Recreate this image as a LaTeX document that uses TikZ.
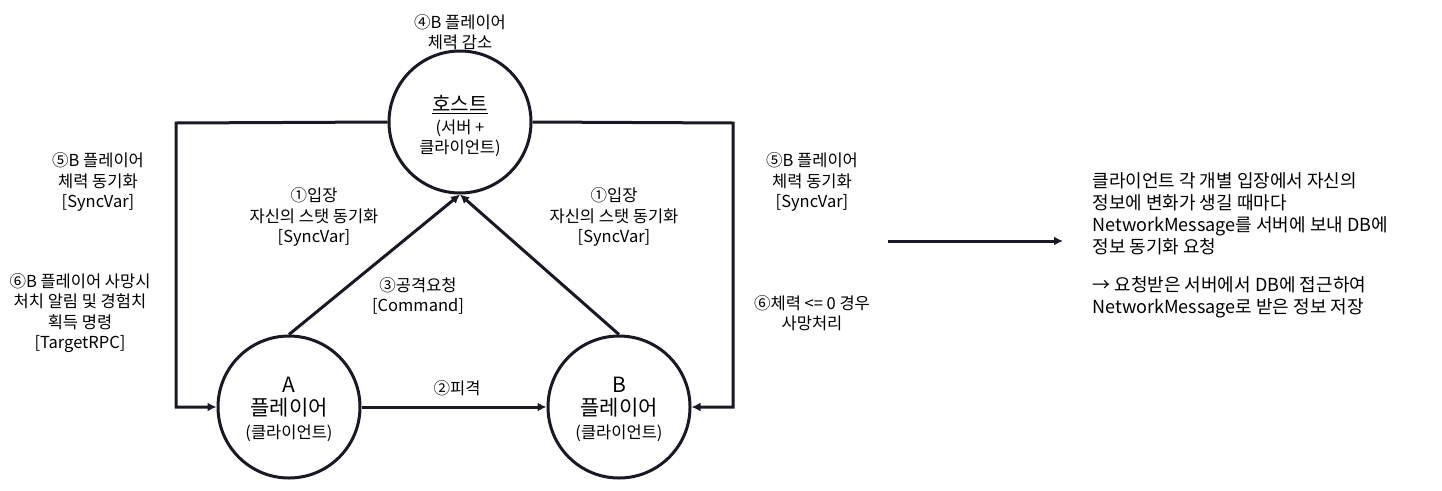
\documentclass[tikz,border=0pt]{standalone}
\usepackage{fontspec}
\setmainfont{Noto Sans CJK KR}
\usetikzlibrary{arrows.meta}
\definecolor{ink}{HTML}{1B1725}

\begin{document}
\begin{tikzpicture}[x=1pt, y=-1pt,
  peer/.style={draw=ink, circle, line width=3pt, minimum size=142pt, inner sep=0pt, align=center, font=\fontsize{21}{23}\selectfont},
  link/.style={draw=ink, line width=3pt, -{Latex[length=9pt,width=9pt]}},
  note/.style={align=center, font=\fontsize{16.5}{20.5}\selectfont}]
\useasboundingbox (0,0) rectangle (1442,490);
\node[peer, font=\fontsize{16.5}{20.5}\selectfont] (host) at (460,122) {\fontsize{20}{24}\selectfont\rule{0pt}{25pt}\underline{호스트}\\[1pt](서버 +\\클라이언트)};
\node[peer] (A) at (289,407) {\rule{0pt}{21pt}A\\플레이어\\\fontsize{16.5}{20}\selectfont(클라이언트)};
\node[peer] (B) at (619,407) {\rule{0pt}{21pt}B\\플레이어\\\fontsize{16.5}{20}\selectfont(클라이언트)};
\coordinate (lt) at (176,123);
\coordinate (lb) at (176,407);
\coordinate (rt) at (733,123);
\coordinate (rb) at (733,407);
\draw[link] (host.west) -- (lt) -- (lb) -- (A.west);
\draw[link] (host.east) -- (rt) -- (rb) -- (B.east);
\draw[link] (A) -- (B);
\draw[link] (A.north) -- (host.south);
\draw[link] (B.north) -- (host.south);
\node[note] (hurt) at (460,32) {④B 플레이어\\체력 감소};
\node[note] (lsync) at (98,182) {⑤B 플레이어\\체력 동기화\\{}[SyncVar]};
\node[note] (rsync) at (812,182) {⑤B 플레이어\\체력 동기화\\{}[SyncVar]};
\node[note] (lkill) at (80,313) {⑥B 플레이어 사망시\\처치 알림 및 경험치\\획득 명령\\{}[TargetRPC]};
\node[note] (rdie) at (812,313) {⑥체력 <= 0 경우\\사망처리};
\node[note] (ajoin) at (314,217) {①입장\\자신의 스탯 동기화\\{}[SyncVar]};
\node[note] (bjoin) at (614,217) {①입장\\자신의 스탯 동기화\\{}[SyncVar]};
\node[note] (atk) at (418,296) {③공격요청\\{}[Command]};
\node[note] (hit) at (457,388) {②피격};
% DB 동기화 설명
\node[note, font=\fontsize{18}{21.7}\selectfont, align=left, anchor=north west] (db) at (1089,169.5) {클라이언트 각 개별 입장에서 자신의\\정보에 변화가 생길 때마다\\NetworkMessage를 서버에 보내 DB에\\정보 동기화 요청\\[17pt]→ 요청받은 서버에서 DB에 접근하여\\NetworkMessage로 받은 정보 저장};
\coordinate (from) at (888,241);
\coordinate (to) at (1063,241);
\draw[link] (from) -- (to);
\end{tikzpicture}
\end{document}
